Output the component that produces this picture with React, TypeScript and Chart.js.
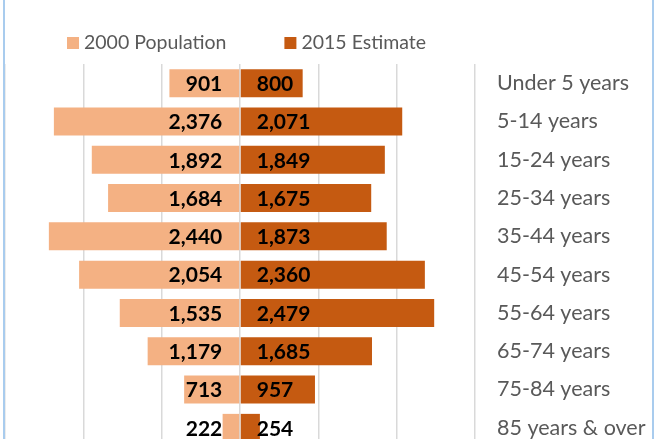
import React, { useEffect, useRef } from "react";
import { Chart, registerables } from "chart.js";

Chart.register(...registerables);

const categories = [
  "Under 5 years",
  "5-14 years",
  "15-24 years",
  "25-34 years",
  "35-44 years",
  "45-54 years",
  "55-64 years",
  "65-74 years",
  "75-84 years",
  "85 years & over",
];
const pop2000 = [901, 2376, 1892, 1684, 2440, 2054, 1535, 1179, 713, 222];
const est2015 = [800, 2071, 1849, 1675, 1873, 2360, 2479, 1685, 957, 254];
const seriesNames = ["2000 Population", "2015 Estimate"];
const seriesColors = ["#F4B183", "#C55A11"];
const axisMin = -3000;
const axisMax = 3000;
const axisStep = 1000;

const FONT = "Lato, 'Noto Sans', sans-serif";

const legendPlugin = {
  id: "customLegend",
  afterDraw(chart: any) {
    const { ctx, chartArea } = chart;
    ctx.save();
    ctx.font = `19.5px ${FONT}`;
    ctx.textBaseline = "middle";
    ctx.textAlign = "left";
    const yMid = 43;
    let x = chartArea.left + 62;
    chart.data.datasets.forEach((ds: any) => {
      ctx.fillStyle = ds.backgroundColor;
      ctx.fillRect(x, yMid - 6, 12, 12);
      ctx.fillStyle = "#595959";
      const tx = x + 17;
      ctx.fillText(ds.label, tx, yMid);
      const w = ctx.measureText(ds.label).width;
      x = tx + w + 58;
    });
    ctx.restore();
  },
};

const labelPlugin = {
  id: "barLabels",
  afterDatasetsDraw(chart: any) {
    const { ctx } = chart;
    ctx.save();
    ctx.font = `bold 21px ${FONT}`;
    ctx.fillStyle = "#000000";
    ctx.textBaseline = "middle";
    chart.data.datasets.forEach((ds: any, di: number) => {
      const meta = chart.getDatasetMeta(di);
      meta.data.forEach((el: any, i: number) => {
        const p = el.getProps(["x", "y", "base"], true);
        const v = Math.abs(ds.data[i]);
        const txt = v.toLocaleString("en-US");
        if (di === 0) {
          ctx.textAlign = "right";
          ctx.fillText(txt, p.base - 17, p.y + 1);
        } else {
          ctx.textAlign = "left";
          ctx.fillText(txt, p.base + 16, p.y + 1);
        }
      });
    });
    ctx.restore();
  },
};

export default function App() {
  const ref = useRef<HTMLCanvasElement | null>(null);

  useEffect(() => {
    if (!ref.current) return;
    const chart = new Chart(ref.current, {
      type: "bar",
      data: {
        labels: categories,
        datasets: [
          {
            label: seriesNames[0],
            data: pop2000.map((v) => -v),
            backgroundColor: seriesColors[0],
            barPercentage: 0.73,
            categoryPercentage: 1,
          },
          {
            label: seriesNames[1],
            data: est2015,
            backgroundColor: seriesColors[1],
            barPercentage: 0.73,
            categoryPercentage: 1,
          },
        ],
      },
      options: {
        indexAxis: "y",
        animation: false,
        responsive: true,
        maintainAspectRatio: false,
        layout: { padding: { top: 64, left: 5, right: 0, bottom: 0 } },
        plugins: {
          legend: { display: false },
          tooltip: { enabled: false },
        },
        scales: {
          x: {
            stacked: true,
            min: axisMin,
            max: axisMax,
            ticks: { display: false, stepSize: axisStep },
            grid: { color: "#D9D9D9", lineWidth: 1.5, drawTicks: false },
            border: { display: false },
            afterFit: (scale: any) => {
              scale.height = 0;
            },
          },
          y: {
            stacked: true,
            position: "right",
            grid: { display: false, drawTicks: false },
            border: { display: false },
            ticks: {
              color: "#595959",
              font: { family: FONT, size: 21.5 },
              padding: 22,
              crossAlign: "near",
            },
            afterFit: (scale: any) => {
              scale.width = 183;
              scale.paddingTop = 0;
              scale.paddingBottom = 0;
            },
          },
        },
      },
      plugins: [labelPlugin, legendPlugin],
    });
    return () => chart.destroy();
  }, []);

  return (
    <div
      style={{
        position: "absolute",
        left: 0,
        top: 0,
        width: 658,
        height: 439,
        overflow: "hidden",
        background: "#ffffff",
      }}
    >
      <div style={{ position: "absolute", left: 0, top: 0, width: 658, height: 447 }}>
        <canvas ref={ref} />
      </div>
      <div style={{ position: "absolute", left: 3, top: 0, width: 2, height: 439, background: "#A9CCEE" }} />
      <div style={{ position: "absolute", left: 652, top: 0, width: 2, height: 439, background: "#A9CCEE" }} />
    </div>
  );
}
